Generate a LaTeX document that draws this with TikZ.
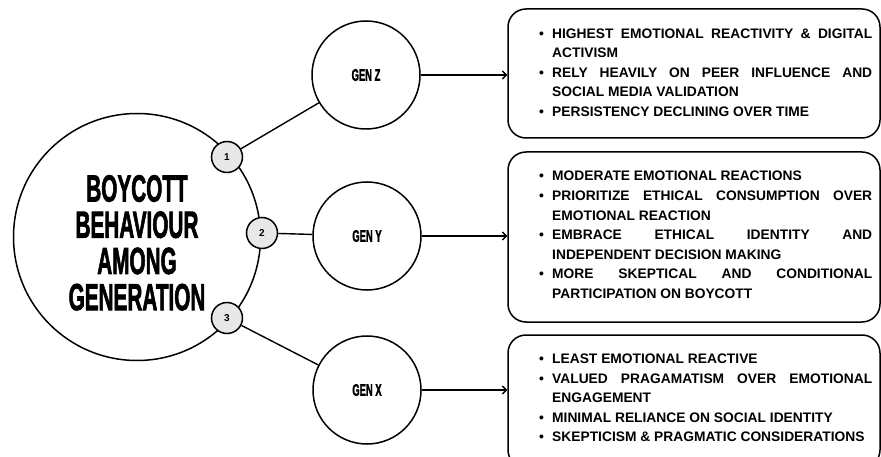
\documentclass[tikz,border=0pt]{standalone}
\usepackage{fontspec}
\setmainfont{Liberation Sans}
\newfontfamily\condfont{Liberation Sans}[FakeBold=2.5]
\usetikzlibrary{arrows.meta}
\newcommand{\cnd}[2]{\scalebox{#1}[1]{#2}}
\newcommand{\bl}{\makebox[13pt][l]{\textbullet}}
\newcommand{\jl}[1]{\makebox[320pt][s]{#1}}
\newcommand{\ind}{\hspace*{13pt}}
\begin{document}
\begin{tikzpicture}[x=1pt,y=-1pt,
  ln/.style={line width=1.5pt, draw=black},
  bigc/.style={ln, circle, minimum size=247pt, inner sep=0pt},
  genc/.style={ln, circle, minimum size=108pt, inner sep=0pt, font=\condfont\bfseries\fontsize{16.8}{16.8}\selectfont},
  numc/.style={ln, circle, fill=black!9, minimum size=31pt, inner sep=0pt, font=\bfseries\fontsize{10}{10}\selectfont},
  gbox/.style={ln, rounded corners=18pt, minimum width=372pt, inner sep=0pt},
  btext/.style={inner sep=0pt, anchor=west, align=left, font=\bfseries\fontsize{13.8}{19.6}\selectfont},
  conn/.style={line width=1.4pt},
  arr/.style={line width=1.4pt, -{Straight Barb[length=4pt,width=8pt]}}
]
\useasboundingbox (0,0) rectangle (881,457);

% central circle
\node[bigc] (big) at (137,237) {};
\node[inner sep=0pt, anchor=base, font=\condfont\bfseries\fontsize{37.7}{33}\selectfont] (bt) at (137,201.5)
  {\cnd{0.55}{\begin{tabular}[t]{@{}c@{}}BOYCOTT\\BEHAVIOUR\\AMONG\\GENERATION\end{tabular}}};

% generation circles
\node[genc] (gz) at (366,75) {\cnd{0.56}{GEN Z}};
\node[genc] (gy) at (367,236) {\cnd{0.56}{GEN Y}};
\node[genc] (gx) at (367,390) {\cnd{0.56}{GEN X}};

% number circles
\node[numc] (n1) at (227,157) {1};
\node[numc] (n2) at (262,233) {2};
\node[numc] (n3) at (227,318) {3};

% connectors
\draw[conn] (n1) -- (gz);
\draw[conn] (n2) -- (gy);
\draw[conn] (n3) -- (gx);

% boxes
\node[gbox, minimum height=129pt] (b1) at (694,73.5) {};
\node[gbox, minimum height=170pt] (b2) at (694,237) {};
\node[gbox, minimum height=133pt] (b3) at (694,401.5) {};

\draw[arr] (gz.east) -- (gz.east -| b1.west);
\draw[arr] (gy.east) -- (gy.east -| b2.west);
\draw[arr] (gx.east) -- (gx.east -| b3.west);

% box texts
\node[btext] (t1) at (539,72.5) {%
\bl\jl{HIGHEST EMOTIONAL REACTIVITY \& DIGITAL}\\
\ind ACTIVISM\\
\bl\jl{RELY HEAVILY ON PEER INFLUENCE AND}\\
\ind SOCIAL MEDIA VALIDATION\\
\bl PERSISTENCY DECLINING OVER TIME};

\node[btext] (t2) at (539,235) {%
\bl MODERATE EMOTIONAL REACTIONS\\
\bl\jl{PRIORITIZE ETHICAL CONSUMPTION OVER}\\
\ind EMOTIONAL REACTION\\
\bl\jl{EMBRACE ETHICAL IDENTITY AND}\\
\ind INDEPENDENT DECISION MAKING\\
\bl\jl{MORE SKEPTICAL AND CONDITIONAL}\\
\ind PARTICIPATION ON BOYCOTT};

\node[btext] (t3) at (539,398) {%
\bl LEAST EMOTIONAL REACTIVE\\
\bl\jl{VALUED PRAGAMATISM OVER EMOTIONAL}\\
\ind ENGAGEMENT\\
\bl MINIMAL RELIANCE ON SOCIAL IDENTITY\\
\bl SKEPTICISM \& PRAGMATIC CONSIDERATIONS};
\end{tikzpicture}
\end{document}
